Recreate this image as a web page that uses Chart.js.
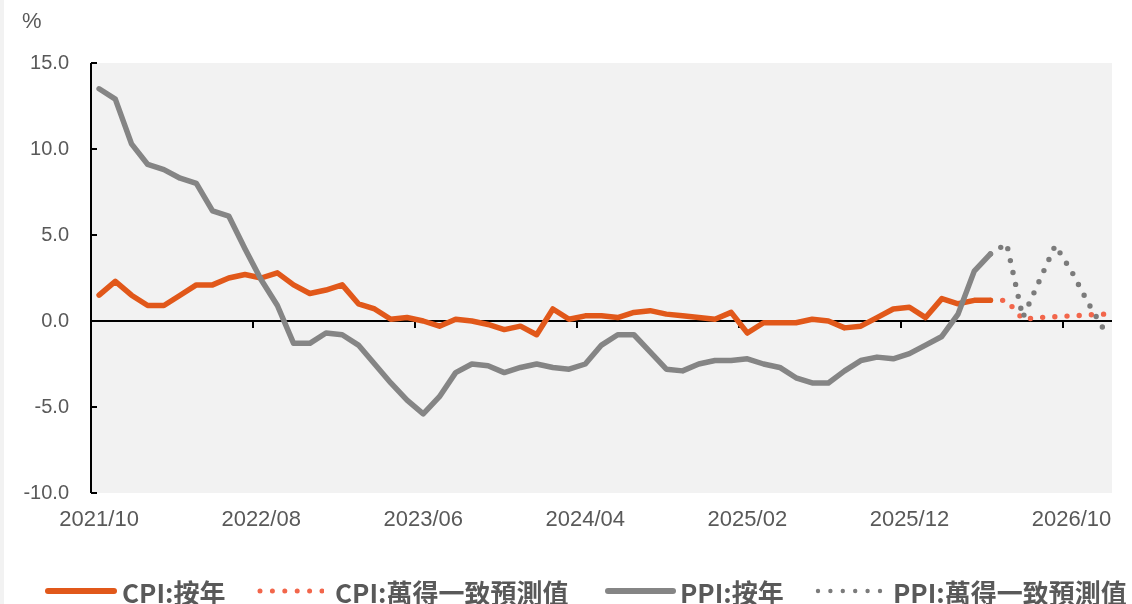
<!DOCTYPE html>
<html>
<head>
<meta charset="utf-8">
<script src="https://cdn.jsdelivr.net/npm/chart.js@4"></script>
<style>
  html, body { margin: 0; padding: 0; background: #fff; }
  #wrap { position: relative; width: 1132px; height: 604px; overflow: hidden; }
  #edge { position: absolute; left: 0; top: 0; width: 4px; height: 604px; background: #f2f2f2; }
  #unit { position: absolute; left: 22px; top: 8px; font: 22px "Liberation Sans", Arial, sans-serif; color: #595959; }
  .item { position: absolute; top: 576px; height: 30px; display: flex; align-items: center;
          font: bold 26px "Noto Sans CJK TC", sans-serif; color: #595959; white-space: nowrap; }
  .item svg { display: block; }
</style>
</head>
<body>
<div id="wrap">
  <canvas id="chart" width="1132" height="604"></canvas>
  <div id="edge"></div>
  <div id="unit">%</div>
  <div id="legend"></div>
</div>
<script>
// monthly categories 2021/10 .. 2026/12
const months = [
  '2021/10','2021/11','2021/12',
  '2022/01','2022/02','2022/03','2022/04','2022/05','2022/06','2022/07','2022/08','2022/09','2022/10','2022/11','2022/12',
  '2023/01','2023/02','2023/03','2023/04','2023/05','2023/06','2023/07','2023/08','2023/09','2023/10','2023/11','2023/12',
  '2024/01','2024/02','2024/03','2024/04','2024/05','2024/06','2024/07','2024/08','2024/09','2024/10','2024/11','2024/12',
  '2025/01','2025/02','2025/03','2025/04','2025/05','2025/06','2025/07','2025/08','2025/09','2025/10','2025/11','2025/12',
  '2026/01','2026/02','2026/03','2026/04','2026/05','2026/06','2026/07','2026/08','2026/09','2026/10','2026/11','2026/12'
];

// CPI YoY, 2021/10 .. 2026/05
const cpiActual = [
  1.5, 2.3, 1.5, 0.9, 0.9, 1.5, 2.1, 2.1, 2.5, 2.7,
  2.5, 2.8, 2.1, 1.6, 1.8, 2.1, 1.0, 0.7, 0.1, 0.2,
  0.0, -0.3, 0.1, 0.0, -0.2, -0.5, -0.3, -0.8, 0.7, 0.1,
  0.3, 0.3, 0.2, 0.5, 0.6, 0.4, 0.3, 0.2, 0.1, 0.5,
  -0.7, -0.1, -0.1, -0.1, 0.1, 0.0, -0.4, -0.3, 0.2, 0.7,
  0.8, 0.2, 1.3, 1.0, 1.2, 1.2
];
// CPI consensus forecast, 2026/05 .. 2026/12
const cpiForecast = [1.2, 1.2, 0.1, 0.2, 0.25, 0.3, 0.35, 0.4];

// PPI YoY, 2021/10 .. 2026/05
const ppiActual = [
  13.5, 12.9, 10.3, 9.1, 8.8, 8.3, 8.0, 6.4, 6.1, 4.2,
  2.4, 0.9, -1.3, -1.3, -0.7, -0.8, -1.4, -2.5, -3.6, -4.6,
  -5.4, -4.4, -3.0, -2.5, -2.6, -3.0, -2.7, -2.5, -2.7, -2.8,
  -2.5, -1.4, -0.8, -0.8, -1.8, -2.8, -2.9, -2.5, -2.3, -2.3,
  -2.2, -2.5, -2.7, -3.3, -3.6, -3.6, -2.9, -2.3, -2.1, -2.2,
  -1.9, -1.4, -0.9, 0.4, 2.9, 3.9
];
// PPI consensus forecast, 2026/05 .. 2026/12
const ppiForecast = [3.9, 4.5, 0.2, 2.3, 4.4, 2.9, 1.1, -0.5];

const forecastStart = cpiActual.length - 1;

function padTail(arr) {
  return months.map((m, i) => (i < arr.length ? arr[i] : null));
}
function padHead(arr) {
  return months.map((m, i) => (i >= forecastStart ? arr[i - forecastStart] : null));
}

const series = [
  { label: 'CPI:按年', data: padTail(cpiActual), color: '#E1581A', dotted: false, order: 1 },
  { label: 'CPI:萬得一致預測值', data: padHead(cpiForecast), color: '#F2664B', dotted: true, order: 1 },
  { label: 'PPI:按年', data: padTail(ppiActual), color: '#858585', dotted: false, order: 0 },
  { label: 'PPI:萬得一致預測值', data: padHead(ppiForecast), color: '#7B7B7B', dotted: true, order: 0 }
];

const datasets = series.map(s => ({
  label: s.label,
  data: s.data,
  borderColor: s.color,
  backgroundColor: s.color,
  borderWidth: s.dotted ? 5.4 : 5.5,
  borderDash: s.dotted ? [0, 12.2] : [],
  borderCapStyle: 'round',
  borderJoinStyle: 'round',
  pointRadius: 0,
  tension: 0,
  spanGaps: false,
  order: s.order
}));

// grey plot area, axis line, inward tick marks and zero line
const axisMarks = {
  id: 'axisMarks',
  beforeDraw(chart) {
    const { ctx, chartArea: a } = chart;
    ctx.save();
    ctx.fillStyle = '#f2f2f2';
    ctx.fillRect(a.left, a.top, a.right - a.left, a.bottom - a.top);
    ctx.restore();
  },
  beforeDatasetsDraw(chart) {
    const { ctx, chartArea: a, scales: { x, y } } = chart;
    ctx.save();
    ctx.strokeStyle = '#000';
    ctx.lineWidth = 2;
    ctx.beginPath();
    ctx.moveTo(a.left, a.top);
    ctx.lineTo(a.left, a.bottom);
    y.ticks.forEach(t => {
      const py = Math.round(y.getPixelForValue(t.value));
      ctx.moveTo(a.left, py);
      ctx.lineTo(a.left + 6, py);
    });
    const zero = Math.round(y.getPixelForValue(0));
    ctx.moveTo(a.left, zero);
    ctx.lineTo(a.right, zero);
    const half = (x.getPixelForValue(1) - x.getPixelForValue(0)) / 2;
    months.forEach((m, i) => {
      if (i > 0 && i % 10 === 0) {
        const px = Math.round(x.getPixelForValue(i) - half);
        ctx.moveTo(px, zero);
        ctx.lineTo(px, zero + 7);
      }
    });
    ctx.stroke();
    ctx.restore();
  }
};

new Chart(document.getElementById('chart'), {
  type: 'line',
  data: { labels: months, datasets: datasets },
  options: {
    responsive: false,
    animation: false,
    devicePixelRatio: 1,
    layout: { padding: { top: 63, right: 20, bottom: 61, left: 0 } },
    plugins: { legend: { display: false }, tooltip: { enabled: false } },
    scales: {
      x: {
        type: 'category',
        offset: true,
        grid: { display: false, drawTicks: false },
        border: { display: false },
        afterFit(scale) { scale.height = 50; },
        ticks: {
          autoSkip: false,
          maxRotation: 0,
          minRotation: 0,
          padding: 14,
          color: '#595959',
          font: { family: '"Liberation Sans", Arial, sans-serif', size: 22 },
          callback: (v, i) => (i % 10 === 0 ? months[i] : '')
        }
      },
      y: {
        min: -10,
        max: 15,
        grid: { display: false, drawTicks: false },
        border: { display: false },
        afterFit(scale) { scale.width = 91; },
        ticks: {
          stepSize: 5,
          padding: 22,
          color: '#595959',
          font: { family: '"Liberation Sans", Arial, sans-serif', size: 20 },
          callback: v => v.toFixed(1)
        }
      }
    }
  },
  plugins: [axisMarks]
});

// legend row under the chart
const legendPos = [
  { left: 45, sample: 72, gap: 5 },
  { left: 256, sample: 68, gap: 11 },
  { left: 605, sample: 71, gap: 4 },
  { left: 814, sample: 70, gap: 9 }
];
const legend = document.getElementById('legend');
series.forEach((s, i) => {
  const p = legendPos[i];
  const item = document.createElement('div');
  item.className = 'item';
  item.style.left = p.left + 'px';
  const w = p.sample;
  const line = s.dotted
    ? `<line x1="4" y1="8" x2="${w - 2}" y2="8" stroke="${s.color}" stroke-width="${i === 1 ? 5 : 4.4}" stroke-linecap="round" stroke-dasharray="0 ${i === 1 ? 12.4 : 12.4}"/>`
    : `<line x1="3" y1="8" x2="${w - 3}" y2="8" stroke="${s.color}" stroke-width="6" stroke-linecap="round"/>`;
  item.innerHTML = `<svg width="${w}" height="16">${line}</svg><span style="margin-left:${p.gap}px">${s.label}</span>`;
  legend.appendChild(item);
});
</script>
</body>
</html>
